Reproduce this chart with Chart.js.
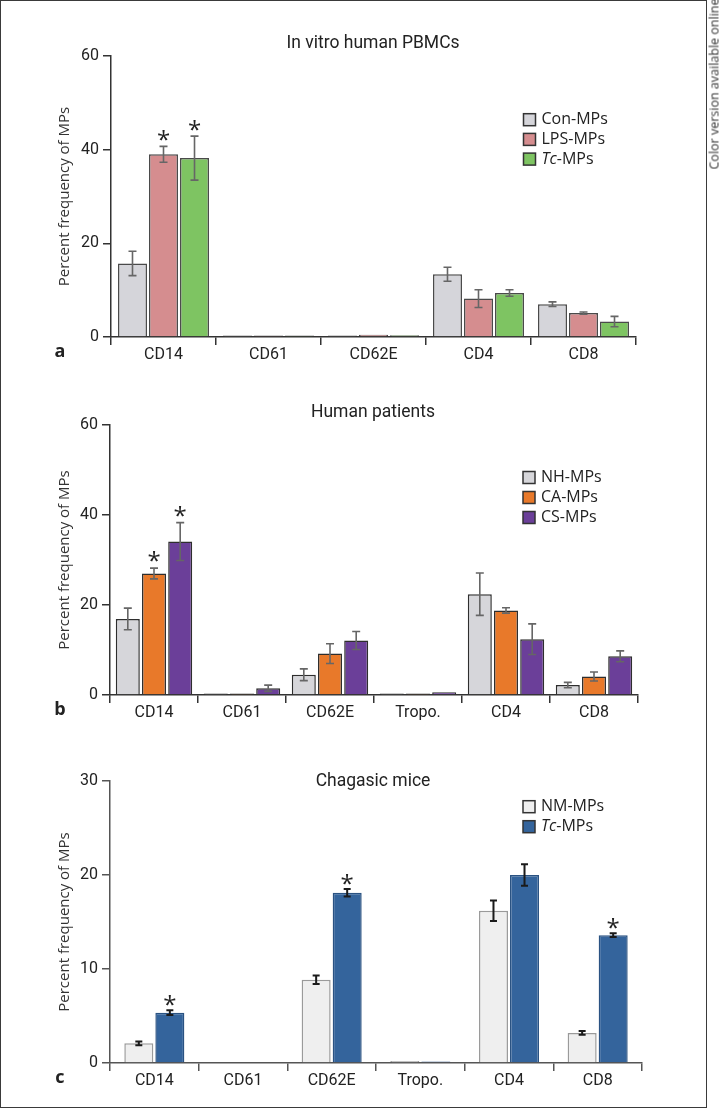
<!DOCTYPE html>
<html>
<head>
<meta charset="utf-8">
<script src="https://cdn.jsdelivr.net/npm/chart.js@4.4.1/dist/chart.umd.min.js"></script>
<style>
body{margin:0;background:#fff;width:720px;height:1118px;position:relative;overflow:hidden}
.frame{position:absolute;left:0;top:0;width:707px;height:1108px;border:1.5px solid #3a3a3a;box-sizing:border-box;pointer-events:none}
.panel{position:absolute;left:0}
.note{position:absolute;left:714px;top:84px;transform:translate(-50%,-50%) rotate(-90deg);white-space:nowrap;font:12.5px "Open Sans",sans-serif;color:#333}
</style>
</head>
<body>
<canvas class="panel" id="chartA" width="706" height="370" style="top:0"></canvas>
<canvas class="panel" id="chartB" width="706" height="370" style="top:370px"></canvas>
<canvas class="panel" id="chartC" width="706" height="367" style="top:740px"></canvas>
<div class="frame"></div>
<div class="note">Color version available online</div>
<script>
// panel a - in vitro human PBMCs
const catsA=['CD14','CD61','CD62E','CD4','CD8'];
const conMP=[15.7,0.2,0.1,13.4,7.0];
const conErr=[2.6,0,0,1.5,0.5];
const lpsMP=[39.0,0.3,0.5,8.2,5.1];
const lpsErr=[1.7,0,0,1.9,0.25];
const lpsStar=[1,0,0,0,0];
const tcMP=[38.2,0.2,0.35,9.4,3.3];
const tcErr=[4.7,0,0,0.7,1.1];
const tcStar=[1,0,0,0,0];

// panel b - human patients
const catsB=['CD14','CD61','CD62E','Tropo.','CD4','CD8'];
const nhMP=[16.9,0.1,4.5,0.1,22.4,2.2];
const nhErr=[2.4,0,1.3,0,4.7,0.6];
const caMP=[27.0,0.2,9.2,0.25,18.8,4.1];
const caErr=[1.2,0,2.2,0,0.6,1.0];
const caStar=[1,0,0,0,0,0];
const csMP=[34.1,1.5,12.1,0.6,12.4,8.6];
const csErr=[4.2,0.7,2.0,0,3.4,1.2];
const csStar=[1,0,0,0,0,0];

// panel c - chagasic mice
const catsC=['CD14','CD61','CD62E','Tropo.','CD4','CD8'];
const nmMP=[2.1,0,8.86,0.2,16.2,3.2];
const nmErr=[0.2,0,0.45,0,1.1,0.2];
const tcmMP=[5.35,0,18.1,0.15,20.0,13.6];
const tcmErr=[0.25,0,0.4,0,1.15,0.2];
const tcmStar=[1,0,1,0,0,1];

const yTicksAB=[0,20,40,60];
const yTicksC=[0,10,20,30];

const TICKFONT='Roboto, "Liberation Sans", sans-serif';
const TEXTFONT='"Open Sans", "DejaVu Sans", sans-serif';

// error bars, asterisks, title, legend and panel letter
const deco={
  id:'deco',
  afterDatasetsDraw(chart,args,o){
    const ctx=chart.ctx,y=chart.scales.y;
    chart.data.datasets.forEach((ds,i)=>{
      const meta=chart.getDatasetMeta(i);
      meta.data.forEach((bar,j)=>{
        const v=ds.data[j],e=ds.err[j];
        let top=y.getPixelForValue(v);
        if(e){
          const y1=y.getPixelForValue(v+e),y2=y.getPixelForValue(v-e),cw=o.capW/2;
          top=y1;
          ctx.save();ctx.strokeStyle=o.errColor;ctx.lineWidth=o.errWidth;
          ctx.beginPath();
          ctx.moveTo(bar.x,y1);ctx.lineTo(bar.x,y2);
          ctx.moveTo(bar.x-cw,y1);ctx.lineTo(bar.x+cw,y1);
          ctx.moveTo(bar.x-cw,y2);ctx.lineTo(bar.x+cw,y2);
          ctx.stroke();ctx.restore();
        }
        if(ds.star&&ds.star[j]){
          ctx.save();ctx.font='24px '+TEXTFONT;ctx.fillStyle='#222';ctx.textAlign='center';ctx.textBaseline='alphabetic';
          const m=ctx.measureText('*');
          const cy=top-o.starGap;
          ctx.fillText('*',bar.x,cy+(m.actualBoundingBoxAscent-m.actualBoundingBoxDescent)/2);
          ctx.restore();
        }
      });
    });
  },
  afterDraw(chart,args,o){
    const ctx=chart.ctx;
    ctx.save();
    ctx.fillStyle='#222';ctx.textAlign='center';ctx.textBaseline='middle';
    ctx.font='17.5px '+TICKFONT;
    ctx.fillText(o.title,373,o.titleY);
    ctx.font='bold 18px '+TEXTFONT;
    ctx.fillText(o.letter,60,o.letterY);
    // legend
    ctx.textAlign='left';
    chart.data.datasets.forEach((ds,i)=>{
      const cy=o.legendY+i*o.legendStep;
      ctx.fillStyle=ds.backgroundColor;
      ctx.fillRect(o.legendX,cy-6,12,12);
      ctx.strokeStyle=o.legendBorder;ctx.lineWidth=1.5;
      ctx.strokeRect(o.legendX,cy-6,12,12);
      ctx.fillStyle='#222';
      let x=o.legendX+18,txt=ds.label;
      if(ds.italic){
        ctx.font='italic 16px '+TEXTFONT;
        ctx.fillText(ds.italic,x,cy);
        x+=ctx.measureText(ds.italic).width;
        txt=txt.slice(ds.italic.length);
      }
      ctx.font='16px '+TEXTFONT;
      ctx.fillText(txt,x,cy);
    });
    ctx.restore();
  }
};

function makeChart(id,cats,sets,opt){
  return new Chart(document.getElementById(id),{
    type:'bar',
    data:{labels:cats,datasets:sets.map(s=>({
      label:s.label,italic:s.italic,data:s.data,err:s.err,star:s.star,
      backgroundColor:s.color,borderColor:s.border,borderWidth:1.5,
      categoryPercentage:opt.catPct,barPercentage:opt.barPct,minBarLength:opt.minBar
    }))},
    options:{
      responsive:false,animation:false,
      layout:{padding:{left:56,top:opt.top,right:opt.right,bottom:0}},
      plugins:{legend:{display:false},tooltip:{enabled:false},deco:opt.deco},
      scales:{
        x:{
          grid:{drawOnChartArea:false,tickLength:8,color:opt.axis,lineWidth:1.5},
          border:{color:opt.axis,width:1.5},
          ticks:{color:'#222',font:{family:TICKFONT,size:16},padding:0},
          afterFit(s){s.height=opt.xH;}
        },
        y:{
          min:0,max:opt.ticks[opt.ticks.length-1],
          afterBuildTicks(s){s.ticks=opt.ticks.map(v=>({value:v}));},
          grid:{drawOnChartArea:false,tickLength:8,color:opt.axis,lineWidth:1.5},
          border:{color:opt.axis,width:1.5},
          ticks:{color:'#222',font:{family:TICKFONT,size:16},padding:4},
          title:{display:true,text:'Percent frequency of MPs',color:'#333',font:{family:TEXTFONT,size:15},padding:{top:0,bottom:0}},
          afterFit(s){s.width=opt.yW;}
        }
      }
    },
    plugins:[deco]
  });
}

makeChart('chartA',catsA,[
  {label:'Con-MPs',data:conMP,err:conErr,color:'#d5d5da',border:'#4a4a4a'},
  {label:'LPS-MPs',data:lpsMP,err:lpsErr,star:lpsStar,color:'#d58d8f',border:'#4a4a4a'},
  {label:'Tc-MPs',italic:'Tc',data:tcMP,err:tcErr,star:tcStar,color:'#7ec462',border:'#4a4a4a'}
],{catPct:0.886,barPct:0.935,minBar:1.5,top:56,right:70,xH:33,yW:55,ticks:yTicksAB,axis:'#333',
  deco:{title:'In vitro human PBMCs',titleY:44,letter:'a',letterY:352,legendX:523.5,legendY:119.7,legendStep:19.7,legendBorder:'#333',
    errColor:'#666',errWidth:1.6,capW:8,starGap:11}});

makeChart('chartB',catsB,[
  {label:'NH-MPs',data:nhMP,err:nhErr,color:'#d6d6da',border:'#2e2e2e'},
  {label:'CA-MPs',data:caMP,err:caErr,star:caStar,color:'#e8792a',border:'#2e2e2e'},
  {label:'CS-MPs',data:csMP,err:csErr,star:csStar,color:'#6b3f99',border:'#2e2e2e'}
],{catPct:0.893,barPct:0.916,minBar:1.5,top:55,right:68,xH:45,yW:54,ticks:yTicksAB,axis:'#333',
  deco:{title:'Human patients',titleY:43,letter:'b',letterY:340,legendX:523,legendY:107.5,legendStep:20,legendBorder:'#333',
    errColor:'#666',errWidth:1.6,capW:8,starGap:11.5}});

makeChart('chartC',catsC,[
  {label:'NM-MPs',data:nmMP,err:nmErr,color:'#efefef',border:'#9a9a9a'},
  {label:'Tc-MPs',italic:'Tc',data:tcmMP,err:tcmErr,star:tcmStar,color:'#34649c',border:'#2a5282'}
],{catPct:0.70,barPct:0.935,minBar:0,top:41,right:64,xH:44,yW:54,ticks:yTicksC,axis:'#555',
  deco:{title:'Chagasic mice',titleY:42,letter:'c',letterY:338,legendX:523,legendY:66.7,legendStep:20,legendBorder:'#333',
    errColor:'#1a1a1a',errWidth:2,capW:7,starGap:10}});
</script>
</body>
</html>
